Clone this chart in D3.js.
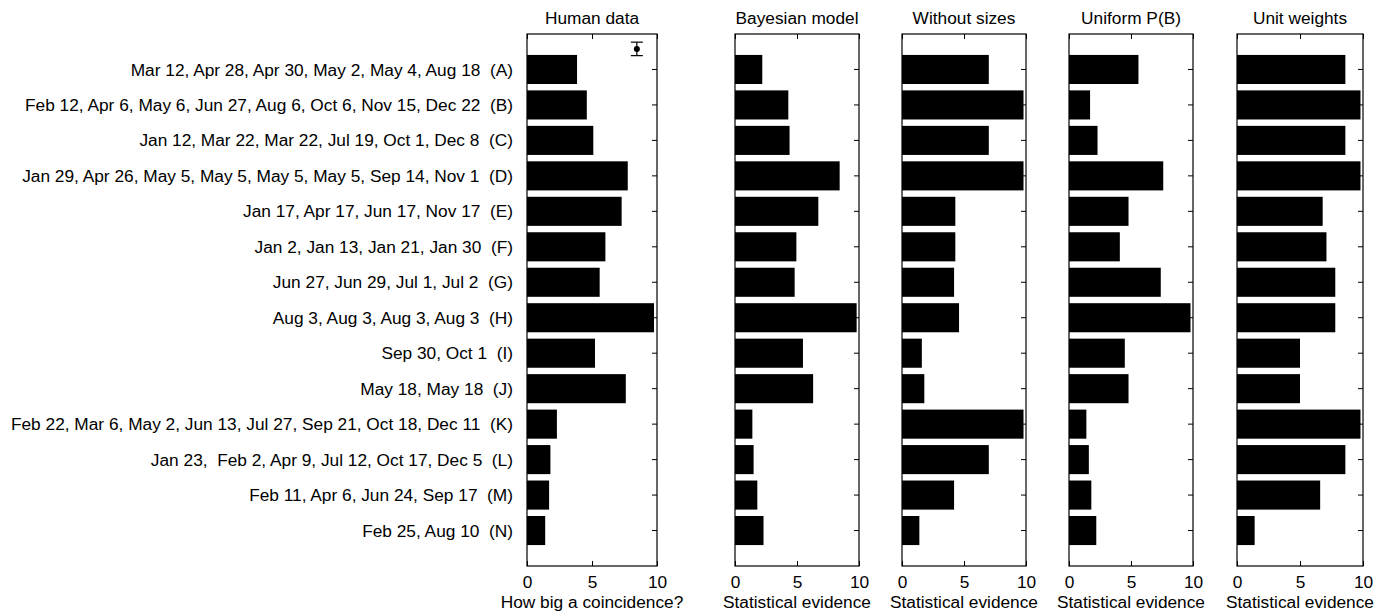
<!DOCTYPE html>
<html>
<head>
<meta charset="utf-8">
<script src="https://cdn.jsdelivr.net/npm/d3@7/dist/d3.min.js"></script>
<style>
  body { margin: 0; background: #fff; }
  svg { display: block; }
  text { font-family: "Liberation Sans", Arial, Helvetica, sans-serif; fill: #000; }
</style>
</head>
<body>
<svg id="chart" width="1380" height="614"></svg>
<script>
const categories = [
  "Mar 12, Apr 28, Apr 30, May 2, May 4, Aug 18  (A)",
  "Feb 12, Apr 6, May 6, Jun 27, Aug 6, Oct 6, Nov 15, Dec 22  (B)",
  "Jan 12, Mar 22, Mar 22, Jul 19, Oct 1, Dec 8  (C)",
  "Jan 29, Apr 26, May 5, May 5, May 5, May 5, Sep 14, Nov 1  (D)",
  "Jan 17, Apr 17, Jun 17, Nov 17  (E)",
  "Jan 2, Jan 13, Jan 21, Jan 30  (F)",
  "Jun 27, Jun 29, Jul 1, Jul 2  (G)",
  "Aug 3, Aug 3, Aug 3, Aug 3  (H)",
  "Sep 30, Oct 1  (I)",
  "May 18, May 18  (J)",
  "Feb 22, Mar 6, May 2, Jun 13, Jul 27, Sep 21, Oct 18, Dec 11  (K)",
  "Jan 23,  Feb 2, Apr 9, Jul 12, Oct 17, Dec 5  (L)",
  "Feb 11, Apr 6, Jun 24, Sep 17  (M)",
  "Feb 25, Aug 10  (N)"
];
const panelTitles = ["Human data", "Bayesian model", "Without sizes", "Uniform P(B)", "Unit weights"];
const axisTitles = ["How big a coincidence?", "Statistical evidence", "Statistical evidence", "Statistical evidence", "Statistical evidence"];
const xTicks = [0, 5, 10];

const humanData     = [3.85, 4.6, 5.1, 7.75, 7.28, 6.03, 5.59, 9.77, 5.23, 7.6, 2.3, 1.8, 1.7, 1.4];
const bayesianModel = [2.2, 4.3, 4.4, 8.44, 6.72, 4.95, 4.81, 9.81, 5.48, 6.3, 1.4, 1.5, 1.8, 2.3];
const withoutSizes  = [7.0, 9.8, 7.0, 9.8, 4.3, 4.3, 4.2, 4.6, 1.6, 1.8, 9.8, 7.0, 4.2, 1.4];
const uniformPB     = [5.6, 1.7, 2.3, 7.6, 4.8, 4.1, 7.4, 9.8, 4.5, 4.8, 1.4, 1.6, 1.8, 2.2];
const unitWeights   = [8.6, 9.8, 8.6, 9.8, 6.8, 7.1, 7.8, 7.8, 5.0, 5.0, 9.8, 8.6, 6.6, 1.4];

// error bar shown in the human data panel (x value, y row position, half-length in rows)
const errorBar = { x: 8.45, y: 0.42, half: 0.19 };

const series = [humanData, bayesianModel, withoutSizes, uniformPB, unitWeights];

const FS = 17.3;
const svg = d3.select("#chart");
const plotTop = 34, plotBottom = 566;
const panels = [
  { x0: 527, x1: 657 },
  { x0: 735, x1: 859 },
  { x0: 902, x1: 1026 },
  { x0: 1069, x1: 1193 },
  { x0: 1237, x1: 1363 }
];

const y = d3.scaleLinear().domain([0, categories.length + 1]).range([plotTop, plotBottom]);
const rowStep = y(1) - y(0);
const barH = rowStep * 0.82;

panels.forEach((p, pi) => {
  const x = d3.scaleLinear().domain([0, 10]).range([p.x0, p.x1]);
  const g = svg.append("g");
  const vals = series[pi];

  g.selectAll("rect.bar").data(vals).enter().append("rect")
    .attr("class", "bar")
    .attr("x", x(0))
    .attr("y", (d, i) => y(i + 1) - barH / 2)
    .attr("width", d => x(d) - x(0))
    .attr("height", barH)
    .attr("fill", "#000");

  // frame
  g.append("rect")
    .attr("x", x(0)).attr("y", plotTop)
    .attr("width", x(10) - x(0)).attr("height", plotBottom - plotTop)
    .attr("fill", "none").attr("stroke", "#000").attr("stroke-width", 1.2);

  // right ticks (inward)
  g.selectAll("line.rt").data(categories).enter().append("line")
    .attr("x1", x(10)).attr("x2", x(10) - 5)
    .attr("y1", (d, i) => y(i + 1)).attr("y2", (d, i) => y(i + 1))
    .attr("stroke", "#000").attr("stroke-width", 1);

  // bottom axis
  const axB = d3.axisBottom(x).tickValues(xTicks).tickSize(-5).tickPadding(10).tickFormat(d3.format("d"));
  const gb = g.append("g").attr("transform", `translate(0,${plotBottom})`).call(axB);
  gb.select(".domain").remove();
  gb.selectAll("line").attr("stroke", "#000");
  gb.selectAll("text").attr("font-size", FS).attr("font-family", "Liberation Sans, Arial, sans-serif").attr("fill", "#000");

  // top ticks (inward)
  const axT = d3.axisTop(x).tickValues(xTicks).tickSize(-5).tickFormat("");
  const gt = g.append("g").attr("transform", `translate(0,${plotTop})`).call(axT);
  gt.select(".domain").remove();
  gt.selectAll("line").attr("stroke", "#000");

  // title
  g.append("text").attr("x", (p.x0 + p.x1) / 2).attr("y", 24)
    .attr("text-anchor", "middle").attr("font-size", FS).text(panelTitles[pi]);
  // axis title
  g.append("text").attr("x", (p.x0 + p.x1) / 2).attr("y", 608)
    .attr("text-anchor", "middle").attr("font-size", FS).text(axisTitles[pi]);

  if (pi === 0) {
    const eb = g.append("g");
    const ex = x(errorBar.x);
    const yTop = y(errorBar.y - errorBar.half), yBot = y(errorBar.y + errorBar.half);
    eb.append("line").attr("x1", ex).attr("x2", ex).attr("y1", yTop).attr("y2", yBot).attr("stroke", "#000").attr("stroke-width", 1.2);
    eb.append("line").attr("x1", ex - 6).attr("x2", ex + 6).attr("y1", yTop).attr("y2", yTop).attr("stroke", "#000").attr("stroke-width", 1.2);
    eb.append("line").attr("x1", ex - 6).attr("x2", ex + 6).attr("y1", yBot).attr("y2", yBot).attr("stroke", "#000").attr("stroke-width", 1.2);
    eb.append("circle").attr("cx", ex).attr("cy", y(errorBar.y)).attr("r", 3).attr("fill", "#000");

    // category labels
    g.selectAll("text.cat").data(categories).enter().append("text")
      .attr("class", "cat")
      .attr("x", p.x0 - 14)
      .attr("y", (d, i) => y(i + 1))
      .attr("dy", "0.35em")
      .attr("text-anchor", "end")
      .attr("font-size", FS)
      .style("white-space", "pre")
      .text(d => d);
  }
});
</script>
</body>
</html>
